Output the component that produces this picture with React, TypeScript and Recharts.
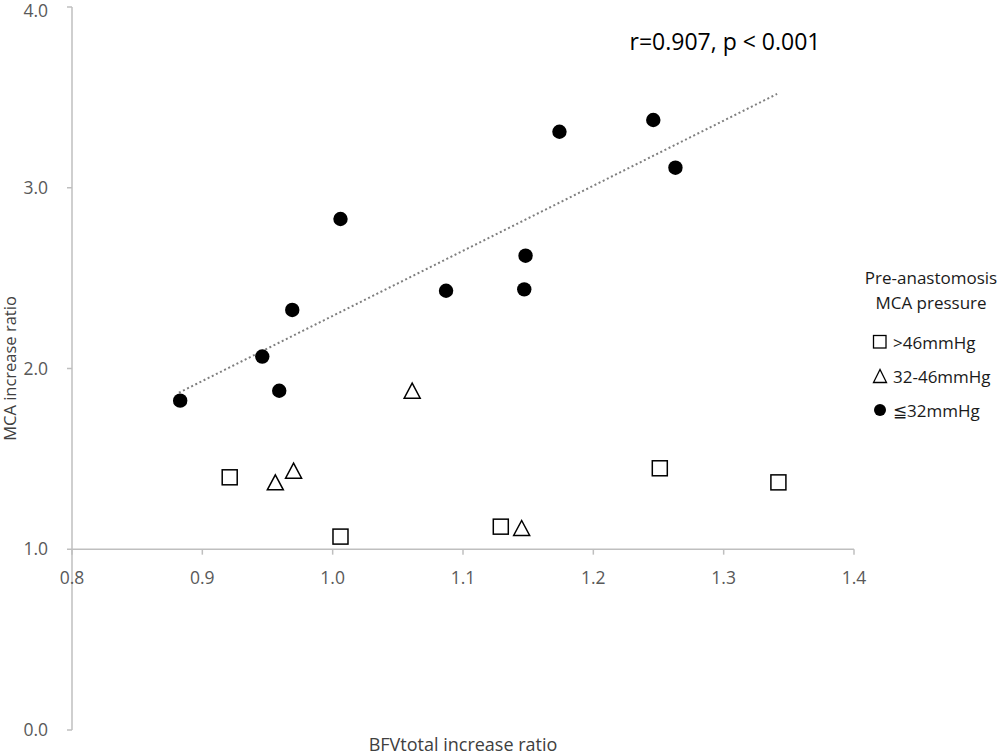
import React from 'react';
import { ScatterChart, Scatter, XAxis, YAxis, ReferenceLine, Legend } from 'recharts';

// >46mmHg (open squares)
const highX = [0.921, 1.006, 1.129, 1.251, 1.342];
const highY = [1.398, 1.070, 1.125, 1.448, 1.370];

// 32-46mmHg (open triangles)
const midX = [0.956, 0.970, 1.061, 1.145];
const midY = [1.365, 1.429, 1.872, 1.112];

// ≦32mmHg (filled circles)
const lowX = [0.883, 0.946, 0.959, 0.969, 1.006, 1.087, 1.147, 1.148, 1.174, 1.246, 1.263];
const lowY = [1.822, 2.066, 1.877, 2.324, 2.827, 2.430, 2.438, 2.624, 3.310, 3.375, 3.111];

// dotted trend line end points
const trendX = [0.882, 1.341];
const trendY = [1.866, 3.519];

const xTicks = [0.8, 0.9, 1.0, 1.1, 1.2, 1.3, 1.4];
const yTicks = [0, 1, 2, 3, 4];
const xAxisAt = 1.0;
const xTickDrop = 0.03;

const legendTitle = ['Pre-anastomosis', 'MCA pressure'];
const legendNames = ['>46mmHg', '32-46mmHg', '≦32mmHg'];
const statText = 'r=0.907, p < 0.001';

const zip = (xs: number[], ys: number[]) => xs.map((x, i) => ({ x, y: ys[i] }));

const AXIS = '#bfbfbf';
const TICK_TEXT = '#595959';

const SquareShape = (props: any) => {
  const { cx, cy } = props;
  return <rect x={cx - 7.5} y={cy - 7.5} width={15} height={15} fill="#fff" stroke="#000" strokeWidth={1.5} />;
};

const TriangleShape = (props: any) => {
  const { cx, cy } = props;
  return (
    <polygon
      points={`${cx},${cy - 8.5} ${cx - 8},${cy + 6.5} ${cx + 8},${cy + 6.5}`}
      fill="#fff"
      stroke="#000"
      strokeWidth={1.5}
    />
  );
};

const CircleShape = (props: any) => {
  const { cx, cy } = props;
  return <circle cx={cx} cy={cy} r={7.2} fill="#000" />;
};

const LegendSymbol = ({ idx }: { idx: number }) => (
  <svg width={16} height={16} style={{ display: 'block' }}>
    {idx === 0 && <rect x={1.5} y={1.5} width={12.5} height={12.5} fill="#fff" stroke="#000" strokeWidth={1.3} />}
    {idx === 1 && <polygon points="8,1.5 1.5,14.5 14.5,14.5" fill="#fff" stroke="#000" strokeWidth={1.3} />}
    {idx === 2 && <circle cx={8} cy={8} r={6} fill="#000" />}
  </svg>
);

const LegendBox = () => (
  <div style={{ width: 150, color: '#1a1a1a', fontSize: 17 }}>
    {legendTitle.map((t) => (
      <div key={t} style={{ textAlign: 'center', lineHeight: '25px', whiteSpace: 'nowrap' }}>{t}</div>
    ))}
    <div style={{ marginTop: 10 }}>
      {legendNames.map((n, i) => (
        <div key={n} style={{ display: 'flex', alignItems: 'center', height: 34, paddingLeft: 16 }}>
          <LegendSymbol idx={i} />
          <span style={{ marginLeft: 5 }}>{n}</span>
        </div>
      ))}
    </div>
  </div>
);

export default function App() {
  return (
    <div style={{ position: 'absolute', left: 0, top: 0, width: 1000, height: 753, background: '#fff', fontFamily: '"Open Sans", sans-serif' }}>
      <ScatterChart width={1000} height={753} margin={{ top: 7, right: 146, bottom: 0, left: 0 }}>
        <XAxis
          type="number"
          dataKey="x"
          domain={[0.8, 1.4]}
          ticks={xTicks}
          tick={false}
          tickLine={false}
          axisLine={false}
          height={23}
          label={{ value: 'BFVtotal increase ratio', position: 'insideBottom', offset: 2, fill: '#404040', fontSize: 18 }}
        />
        <YAxis
          type="number"
          dataKey="y"
          domain={[0, 4]}
          ticks={yTicks}
          width={72}
          tickFormatter={(v: number) => v.toFixed(1)}
          tick={{ fill: TICK_TEXT, fontSize: 17.5 }}
          tickMargin={19}
          tickSize={5}
          axisLine={{ stroke: AXIS, strokeWidth: 1.5 }}
          tickLine={{ stroke: AXIS, strokeWidth: 1.5 }}
          label={{ value: 'MCA increase ratio', angle: -90, position: 'insideLeft', offset: 10, fill: '#404040', fontSize: 16.5, style: { textAnchor: 'middle' } }}
        />
        <ReferenceLine y={xAxisAt} stroke={AXIS} strokeWidth={1.5} />
        {xTicks.map((t) => (
          <ReferenceLine
            key={t}
            segment={[{ x: t, y: xAxisAt }, { x: t, y: xAxisAt - xTickDrop }]}
            stroke={AXIS}
            strokeWidth={1.5}
            label={{ value: t.toFixed(1), position: 'bottom', offset: 17, fill: TICK_TEXT, fontSize: 17.5 }}
          />
        ))}
        <ReferenceLine
          segment={[{ x: trendX[0], y: trendY[0] }, { x: trendX[1], y: trendY[1] }]}
          stroke="#7f7f7f"
          strokeWidth={2}
          strokeDasharray="2 2.6"
        />
        <Legend
          layout="vertical"
          align="center"
          verticalAlign="middle"
          content={<LegendBox />}
          wrapperStyle={{ left: 856, top: 265, width: 150 }}
        />
        <Scatter name={legendNames[0]} data={zip(highX, highY)} shape={<SquareShape />} isAnimationActive={false} />
        <Scatter name={legendNames[1]} data={zip(midX, midY)} shape={<TriangleShape />} isAnimationActive={false} />
        <Scatter name={legendNames[2]} data={zip(lowX, lowY)} shape={<CircleShape />} isAnimationActive={false} />
      </ScatterChart>
      <div
        style={{
          position: 'absolute',
          left: 725,
          top: 30,
          transform: 'translateX(-50%)',
          fontSize: 23,
          lineHeight: '23px',
          color: '#000',
          whiteSpace: 'nowrap',
        }}
      >
        {statText}
      </div>
    </div>
  );
}
